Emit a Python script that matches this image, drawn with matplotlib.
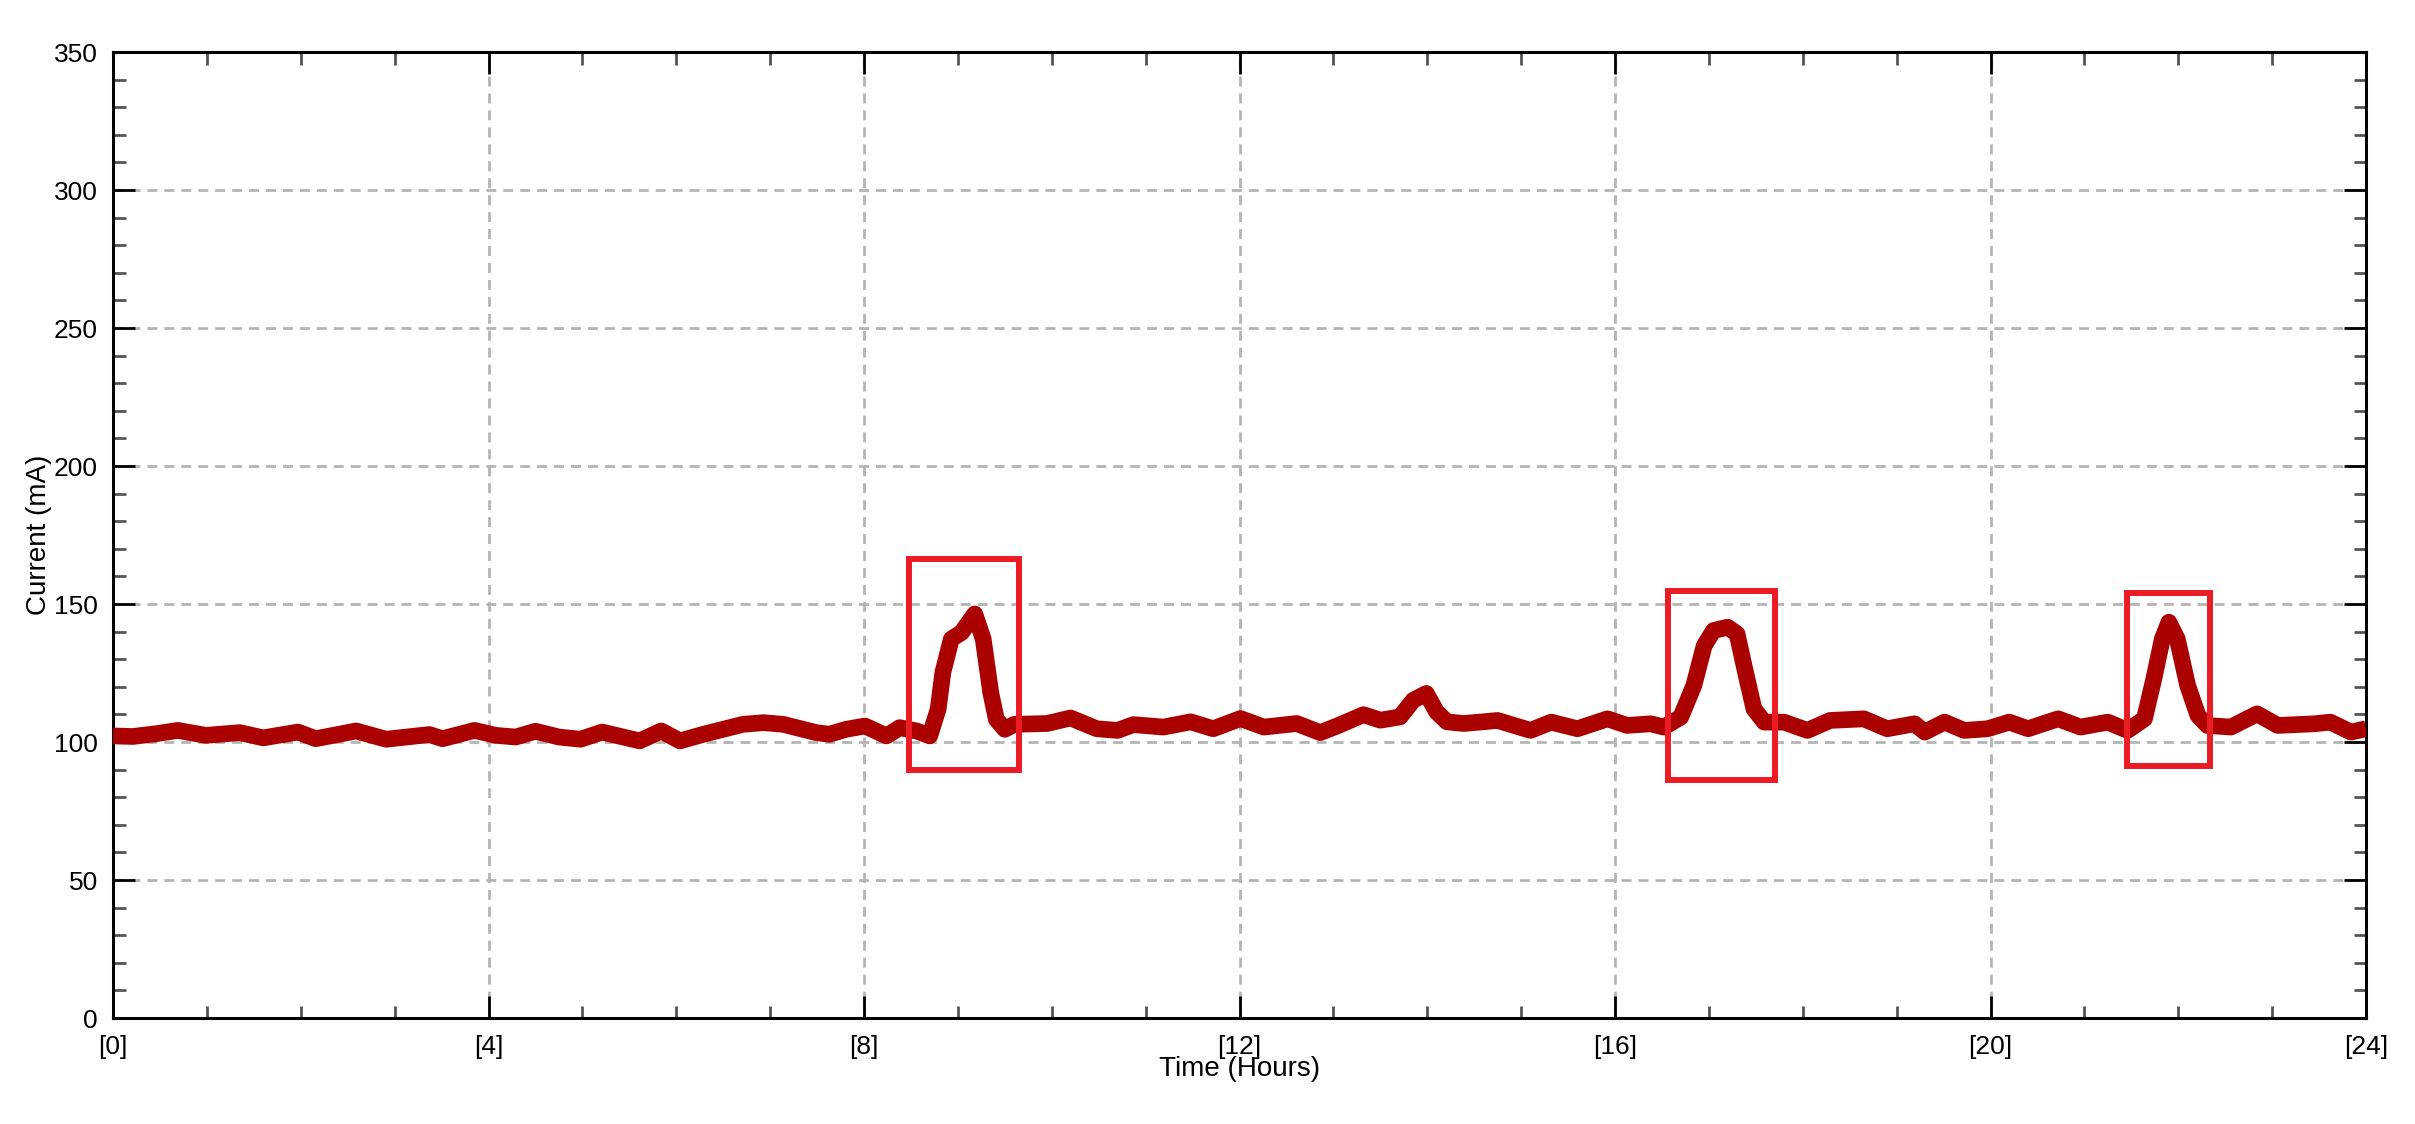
import numpy as np
import matplotlib.pyplot as plt
from matplotlib.patches import Rectangle
from matplotlib.ticker import MultipleLocator

# current trace (hours, mA)
hours = [0.00, 0.21, 0.46, 0.69, 0.99, 1.35, 1.60, 1.97, 2.16, 2.59, 2.91, 3.37, 3.51, 3.85,
         4.08, 4.29, 4.50, 4.75, 4.98, 5.21, 5.61, 5.84, 6.04, 6.29, 6.71, 6.93, 7.14, 7.49,
         7.63, 7.81, 8.01, 8.24, 8.38, 8.56, 8.70, 8.79, 8.84, 8.93, 9.04, 9.18, 9.27, 9.35,
         9.41, 9.50, 9.60, 9.95, 10.20, 10.48, 10.70, 10.87, 11.19, 11.48, 11.72, 12.01,
         12.26, 12.61, 12.86, 13.04, 13.32, 13.50, 13.71, 13.85, 13.99, 14.10, 14.21, 14.39,
         14.75, 15.10, 15.32, 15.60, 15.92, 16.13, 16.38, 16.52, 16.70, 16.84, 16.95, 17.05,
         17.20, 17.30, 17.39, 17.48, 17.59, 17.80, 18.05, 18.29, 18.65, 18.90, 19.19, 19.30,
         19.51, 19.72, 19.97, 20.20, 20.40, 20.72, 20.96, 21.25, 21.46, 21.64, 21.74, 21.83,
         21.90, 21.99, 22.10, 22.21, 22.31, 22.56, 22.84, 23.06, 23.45, 23.62, 23.84, 24.00]
current = [102.2, 102.0, 103.0, 104.2, 102.4, 103.4, 101.5, 103.6, 101.2, 104.0, 101.0, 102.7,
           101.2, 104.2, 102.4, 101.8, 103.9, 101.8, 101.0, 103.6, 100.4, 104.0, 100.4, 102.8,
           106.4, 107.0, 106.4, 103.4, 102.8, 104.6, 105.8, 102.2, 105.2, 104.0, 102.2, 111.9,
           125.2, 137.3, 139.7, 146.4, 137.3, 117.9, 108.2, 104.6, 106.4, 106.7, 108.7, 104.8,
           104.2, 106.3, 105.4, 107.3, 104.8, 108.5, 105.4, 106.7, 103.4, 105.8, 109.9, 107.9,
           109.1, 115.1, 117.6, 110.9, 107.3, 106.7, 107.8, 104.2, 107.2, 104.8, 108.4, 106.0,
           106.6, 105.4, 109.0, 120.5, 134.9, 140.4, 141.6, 139.2, 125.3, 112.0, 107.2, 107.2,
           104.2, 107.8, 108.4, 104.8, 106.6, 103.6, 107.2, 104.2, 104.8, 107.2, 104.8, 108.4,
           105.4, 107.2, 104.2, 108.4, 122.9, 137.3, 143.4, 137.3, 120.5, 109.6, 106.0, 105.4,
           110.2, 106.0, 106.6, 107.2, 103.6, 104.8]

# highlight boxes: (x0, x1, y0, y1)
box_x0 = [8.48, 16.56, 21.45]
box_x1 = [9.65, 17.70, 22.34]
box_y0 = [90.0, 86.4, 91.3]
box_y1 = [166.3, 154.8, 154.0]

x_ticks = [0, 4, 8, 12, 16, 20, 24]
x_labels = ["[%d]" % t for t in x_ticks]

plt.rcParams['font.family'] = ['Liberation Sans', 'DejaVu Sans']

fig = plt.figure(figsize=(24.15, 11.24), dpi=100)
ax = fig.add_axes([113/2415, 1-1018/1124, 2253/2415, 966/1124])

ax.plot(hours, current, color="#aa0000", linewidth=12, solid_joinstyle="round",
        solid_capstyle="butt", zorder=3)

for a, b, c, d in zip(box_x0, box_x1, box_y0, box_y1):
    ax.add_patch(Rectangle((a, c), b - a, d - c, fill=False, edgecolor="#ed1c24",
                           linewidth=4.3, zorder=4))

ax.set_xlim(0, 24)
ax.set_ylim(0, 350)
ax.set_xticks(x_ticks)
ax.set_xticklabels(x_labels)
ax.xaxis.set_minor_locator(MultipleLocator(1))
ax.yaxis.set_major_locator(MultipleLocator(50))
ax.yaxis.set_minor_locator(MultipleLocator(10))

ax.grid(True, which="major", color="#b4b4b4", linewidth=2, linestyle=(0, (3.6, 2.5)))
ax.set_axisbelow(True)

ax.tick_params(which="both", direction="in", top=True, right=True, labelsize=19)
ax.tick_params(which="major", length=16, width=2, color="black")
ax.tick_params(which="minor", length=9, width=2, color="#555555")
ax.tick_params(axis="x", which="major", pad=12)
ax.tick_params(axis="y", which="major", pad=11)

for s in ax.spines.values():
    s.set_linewidth(2.2)
    s.set_color("black")

ax.set_xlabel("Time (Hours)", fontsize=20, labelpad=-2)
ax.set_ylabel("Current (mA)", fontsize=20)
ax.yaxis.set_label_coords(-0.027, 0.5)

fig.savefig("out.png", dpi=100)
